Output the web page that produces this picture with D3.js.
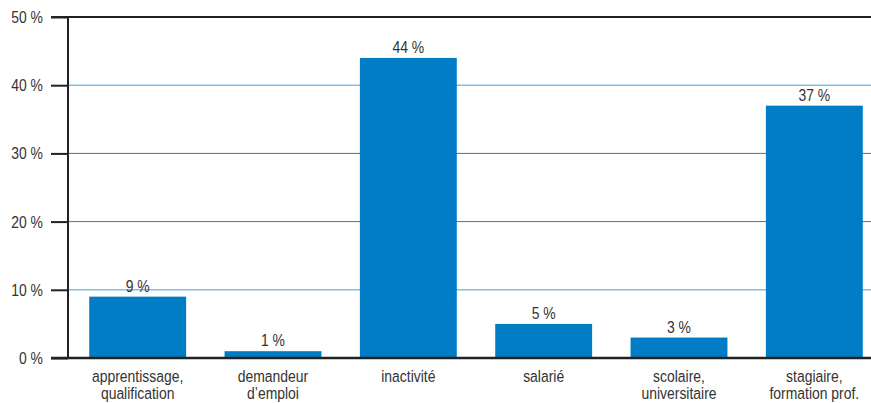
<!DOCTYPE html>
<html>
<head>
<meta charset="utf-8">
<script src="https://cdn.jsdelivr.net/npm/d3@7"></script>
<style>
  body { margin: 0; background: #fff; }
  text { font-family: "Liberation Sans", Arial, sans-serif; fill: #333; }
</style>
</head>
<body>
<div id="chart"></div>
<script>
// data
const categories = [
  ["apprentissage,", "qualification"],
  ["demandeur", "d\u2019emploi"],
  ["inactivit\u00e9"],
  ["salari\u00e9"],
  ["scolaire,", "universitaire"],
  ["stagiaire,", "formation prof."]
];
const values = [9, 1, 44, 5, 3, 37];
const yTicks = [0, 10, 20, 30, 40, 50];

const width = 871, height = 403;
const squeeze = 0.82; // fake a condensed face
const fontSize = "17px";
const svg = d3.select("#chart").append("svg")
  .attr("width", width)
  .attr("height", height);

// scales
const y = d3.scaleLinear().domain([0, 50]).range([358, 17]);
const x = d3.scaleBand()
  .domain(d3.range(values.length))
  .range([70, 882])
  .paddingInner(0.284)
  .paddingOuter(0.142);

// gridlines (light blue at 10/40, darker blue at 20/30)
const gridColor = { 10: "#7fc0e4", 20: "#2a7ab5", 30: "#2a7ab5", 40: "#7fc0e4" };
svg.append("g")
  .selectAll("line")
  .data(yTicks.filter(d => d > 0 && d < 50))
  .join("line")
  .attr("x1", 68).attr("x2", width)
  .attr("y1", d => y(d)).attr("y2", d => y(d))
  .attr("stroke", d => gridColor[d])
  .attr("stroke-width", d => (d === 10 || d === 40) ? 1.6 : 1);

// top line
svg.append("line")
  .attr("x1", 51).attr("x2", width)
  .attr("y1", y(50)).attr("y2", y(50))
  .attr("stroke", "#222").attr("stroke-width", 2);

// bars
svg.append("g")
  .selectAll("rect")
  .data(values)
  .join("rect")
  .attr("x", (d, i) => x(i))
  .attr("width", x.bandwidth())
  .attr("y", d => y(d))
  .attr("height", d => y(0) - y(d))
  .attr("fill", "#007dc5");

// value labels
svg.append("g")
  .selectAll("text")
  .data(values)
  .join("text")
  .attr("transform", (d, i) => `translate(${x(i) + x.bandwidth() / 2},${y(d) - 5}) scale(${squeeze},1)`)
  .attr("text-anchor", "middle")
  .style("font-size", fontSize)
  .text(d => d + " %");

// y axis
const yAxis = d3.axisLeft(y)
  .tickValues(yTicks)
  .tickSize(17)
  .tickPadding(8)
  .tickFormat(d => d + " %");

const gy = svg.append("g")
  .attr("transform", "translate(68,0)")
  .call(yAxis);
gy.select(".domain").remove();
gy.selectAll(".tick line").attr("stroke", "#222").attr("stroke-width", 2);
gy.selectAll(".tick text")
  .attr("x", null)
  .attr("transform", `translate(-25,0) scale(${squeeze},1)`)
  .style("font-size", fontSize)
  .attr("fill", "#333");

// vertical axis line
svg.append("line")
  .attr("x1", 68).attr("x2", 68)
  .attr("y1", y(50) - 1).attr("y2", y(0))
  .attr("stroke", "#222").attr("stroke-width", 2);

// baseline
svg.append("line")
  .attr("x1", 51).attr("x2", width)
  .attr("y1", y(0)).attr("y2", y(0))
  .attr("stroke", "#222").attr("stroke-width", 2.5);

// category labels
const cat = svg.append("g")
  .selectAll("text")
  .data(categories)
  .join("text")
  .attr("transform", (d, i) => `translate(${x(i) + x.bandwidth() / 2},382) scale(${squeeze},1)`)
  .attr("text-anchor", "middle")
  .style("font-size", fontSize);
cat.selectAll("tspan")
  .data(d => d)
  .join("tspan")
  .attr("x", 0)
  .attr("dy", (d, i) => i === 0 ? 0 : 17)
  .text(d => d);
</script>
</body>
</html>
